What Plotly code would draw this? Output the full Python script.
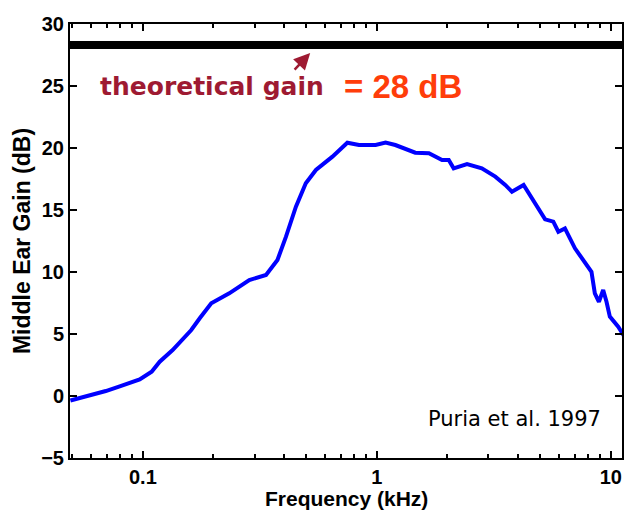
import plotly.graph_objects as go
import math

# Middle ear gain curve (Puria et al. 1997), frequency in kHz, gain in dB
freq_khz = [0.049, 0.0543, 0.0605, 0.0694, 0.0796, 0.0896, 0.0969, 0.109, 0.118, 0.134,
            0.161, 0.175, 0.196, 0.234, 0.285, 0.336, 0.376, 0.409, 0.451, 0.497,
            0.549, 0.646, 0.748, 0.839, 0.988, 1.09, 1.20, 1.46, 1.67, 1.90,
            2.03, 2.13, 2.43, 2.81, 3.21, 3.54, 3.78, 4.24, 4.75, 5.24,
            5.68, 5.97, 6.37, 7.03, 8.27, 8.55, 8.90, 9.28, 9.59, 9.91,
            10.76, 11.4]
gain_db = [-0.36, -0.16, 0.08, 0.40, 0.77, 1.09, 1.33, 1.96, 2.77, 3.71,
           5.32, 6.27, 7.48, 8.28, 9.35, 9.76, 10.97, 12.85, 15.27, 17.15,
           18.23, 19.30, 20.43, 20.24, 20.24, 20.43, 20.24, 19.62, 19.57, 19.03,
           19.03, 18.36, 18.71, 18.36, 17.69, 17.02, 16.48, 17.02, 15.54, 14.25,
           14.06, 13.25, 13.52, 11.91, 10.02, 8.28, 7.60, 8.55, 7.60, 6.40,
           5.59, 4.84]

theoretical_gain = 28.3
x_range_khz = [0.0488, 11.17]
y_range = [-5, 30]
major_ticks = [0.1, 1, 10]
major_labels = ["0.1", "1", "10"]
minor_ticks = [0.05, 0.06, 0.07, 0.08, 0.09,
               0.2, 0.3, 0.4, 0.5, 0.6, 0.7, 0.8, 0.9,
               2, 3, 4, 5, 6, 7, 8, 9]
arrow_tip = (0.519, 27.66)

bold_font = dict(family="Liberation Sans, Arial", size=20, color="black", weight="bold")
title_font = dict(family="Liberation Sans, Arial", size=23, color="black", weight="bold")
xtitle_font = dict(family="Liberation Sans, Arial", size=21, color="black", weight="bold")

fig = go.Figure()
fig.add_trace(go.Scatter(x=freq_khz, y=gain_db, mode="lines",
                         line=dict(color="#0000ff", width=4), showlegend=False,
                         hoverinfo="skip"))
fig.add_hline(y=theoretical_gain, line=dict(color="black", width=8))

fig.add_annotation(x=math.log10(arrow_tip[0]), y=arrow_tip[1], xref="x", yref="y",
                   ax=-17, ay=18, showarrow=True, arrowhead=2, arrowsize=1.3,
                   arrowwidth=2.5, arrowcolor="#9e1a32", text="")
fig.add_annotation(x=0.05, y=0.855, xref="paper", yref="paper", xanchor="left",
                   yanchor="middle", showarrow=False, text="theoretical gain",
                   font=dict(family="DejaVu Sans", size=25, color="#9e1a32", weight="bold"))
fig.add_annotation(x=0.493, y=0.855, xref="paper", yref="paper", xanchor="left",
                   yanchor="middle", showarrow=False, text="= 28 dB",
                   font=dict(family="Liberation Sans, Arial", size=33, color="#ff3d0a",
                             weight="bold"))
fig.add_annotation(x=0.805, y=0.09, xref="paper", yref="paper", xanchor="center",
                   yanchor="middle", showarrow=False, text="Puria et al. 1997",
                   font=dict(family="DejaVu Sans", size=21, color="black"))
# x-axis title placed as a text block below the tick labels
fig.add_annotation(x=0.5, y=-0.093, xref="paper", yref="paper", xanchor="center",
                   yanchor="middle", showarrow=False, text="Frequency (kHz)",
                   borderpad=0, font=xtitle_font)

fig.update_layout(
    width=624, height=511,
    margin=dict(l=70, r=0, t=24, b=53),
    paper_bgcolor="white", plot_bgcolor="white",
    xaxis=dict(type="log", range=[math.log10(x_range_khz[0]), math.log10(x_range_khz[1])],
               showline=True, linecolor="black", linewidth=2, mirror="ticks",
               ticks="inside", ticklen=7, tickwidth=2, tickcolor="black",
               tickvals=major_ticks, ticktext=major_labels, tickfont=bold_font,
               showgrid=False, zeroline=False, automargin=False,
               minor=dict(tickvals=minor_ticks, ticks="inside", ticklen=4,
                          tickwidth=1.5, tickcolor="black", showgrid=False)),
    yaxis=dict(range=y_range, dtick=5, showline=True, linecolor="black", linewidth=2,
               mirror="ticks",
               ticks="inside", ticklen=7, tickwidth=2, tickcolor="black",
               tickfont=bold_font, showgrid=False, zeroline=False,
               title=dict(text="Middle Ear Gain (dB)", font=title_font, standoff=4)),
)

fig.write_html("out.html")
